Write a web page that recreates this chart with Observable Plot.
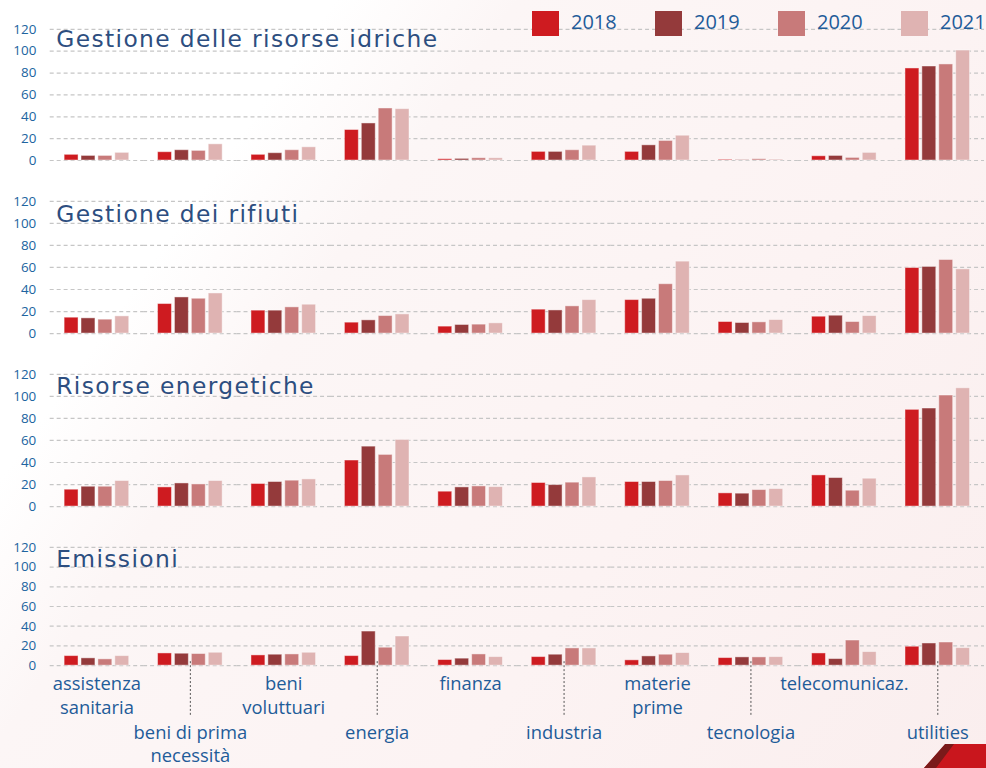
<!DOCTYPE html>
<html><head><meta charset="utf-8">
<script src="https://cdn.jsdelivr.net/npm/d3@7"></script>
<script src="https://cdn.jsdelivr.net/npm/@observablehq/plot@0.6"></script>
<style>
html,body{margin:0;padding:0;overflow:hidden;background:#fff;}
#page{position:relative;width:986px;height:768px;overflow:hidden;
  background:linear-gradient(125deg,#ffffff 0%,#ffffff 22%,#fcf6f6 34%,#fcf3f3 65%,#faeeee 100%);}
.panel{position:absolute;left:0;}
.leg{position:absolute;top:11px;height:25px;font-family:"Open Sans",sans-serif;font-size:20px;color:#1f5c99;}
.leg .sw{position:absolute;left:0;top:0;width:27px;height:25px;}
.leg .lb{position:absolute;left:39px;top:-4px;white-space:nowrap;line-height:30px;}
g[font-family="DejaVu Sans"] text{letter-spacing:1.4px;}
#deco{position:absolute;left:924px;top:744px;width:62px;height:24px;background:#c9161d;clip-path:polygon(0 100%,35% 0,100% 0,100% 100%);}
#deco2{position:absolute;left:924px;top:744px;width:30px;height:24px;background:#7a1a1a;clip-path:polygon(0 100%,70% 0,100% 0,40% 100%);}
</style>
</head><body>
<div id="page"></div>
<script>
const categories = ["assistenza sanitaria","beni di prima necessità","beni voluttuari","energia","finanza","industria","materie prime","tecnologia","telecomunicaz.","utilities"];
const labelLine1 = ["assistenza","beni di prima","beni","energia","finanza","industria","materie","tecnologia","telecomunicaz.","utilities"];
const labelLine2 = ["sanitaria","necessità","voluttuari","","","","prime","","",""];
const years = ["2018","2019","2020","2021"];
const yearColors = ["#ce1b20","#943a3b","#c87a7a","#dfb3b2"];
const yTicks = [0,20,40,60,80,100,120];
const panelTitles = ["Gestione delle risorse idriche","Gestione dei rifiuti","Risorse energetiche","Emissioni"];

// Gestione delle risorse idriche
const idriche2018 = [5.2, 7.6, 5.2, 27.9, 1.2, 7.9, 7.9, 0.6, 3.9, 84.2];
const idriche2019 = [4.2, 9.4, 6.7, 33.9, 1.5, 7.9, 13.9, 0.3, 4.2, 86.0];
const idriche2020 = [4.2, 8.8, 9.4, 47.6, 2.1, 9.4, 17.9, 1.2, 2.4, 87.9];
const idriche2021 = [7.0, 14.8, 12.1, 47.0, 2.1, 13.6, 22.7, 0.9, 7.0, 100.6];
// Gestione dei rifiuti
const rifiuti2018 = [14.4, 26.8, 20.8, 9.9, 6.3, 21.7, 30.4, 10.5, 15.3, 59.5];
const rifiuti2019 = [13.8, 32.8, 20.8, 12.0, 7.8, 21.0, 31.6, 9.6, 16.2, 60.5];
const rifiuti2020 = [12.6, 31.6, 23.8, 15.9, 8.1, 24.7, 44.8, 10.2, 10.5, 66.8];
const rifiuti2021 = [15.6, 36.4, 26.2, 17.4, 9.3, 30.4, 65.3, 12.3, 15.9, 58.3];
// Risorse energetiche
const energetiche2018 = [15.3, 17.4, 20.5, 41.8, 13.5, 21.4, 22.3, 12.0, 28.3, 87.8];
const energetiche2019 = [18.0, 21.0, 22.3, 54.4, 17.4, 19.5, 22.3, 11.7, 25.9, 89.0];
const energetiche2020 = [18.0, 20.1, 23.5, 46.9, 18.3, 21.7, 23.2, 15.0, 14.4, 100.8];
const energetiche2021 = [23.2, 23.2, 24.7, 60.5, 17.7, 26.5, 28.3, 15.9, 25.3, 107.4];
// Emissioni
const emissioni2018 = [9.7, 12.4, 10.4, 9.7, 5.7, 8.7, 5.4, 7.7, 12.4, 19.2];
const emissioni2019 = [7.4, 12.1, 11.1, 34.6, 7.1, 11.1, 9.4, 8.4, 6.7, 22.5];
const emissioni2020 = [6.4, 11.8, 11.4, 18.2, 11.4, 17.5, 11.1, 8.4, 25.5, 23.5];
const emissioni2021 = [9.7, 13.1, 13.1, 29.6, 8.7, 17.5, 12.8, 8.7, 13.8, 17.8];

const panelSeries = [
  [idriche2018, idriche2019, idriche2020, idriche2021],
  [rifiuti2018, rifiuti2019, rifiuti2020, rifiuti2021],
  [energetiche2018, energetiche2019, energetiche2020, energetiche2021],
  [emissioni2018, emissioni2019, emissioni2020, emissioni2021]
];

const layouts = [
  {top: 0,   marginTop: 29, plotH: 132, marginBottom: 8,   titleDy: 18},
  {top: 180, marginTop: 21, plotH: 133, marginBottom: 8,   titleDy: 21},
  {top: 353, marginTop: 21, plotH: 133, marginBottom: 8,   titleDy: 20},
  {top: 526, marginTop: 21, plotH: 119, marginBottom: 102, titleDy: 20}
];

const page = document.getElementById("page");
const labelColor = "#1f5c99";

panelSeries.forEach((series, p) => {
  const L = layouts[p];
  const rows = [];
  categories.forEach((c, i) => years.forEach((y, j) => rows.push({cat: c, year: y, value: series[j][i]})));
  const marks = [
    Plot.ruleY(yTicks, {stroke: "#c6c6c6", strokeDasharray: "4,3", strokeWidth: 1.2}),
    Plot.barY(rows, {fx: "cat", x: "year", y: "value", fill: "year", stroke: "#ffffff", strokeOpacity: 0.45, strokeWidth: 1}),
    Plot.text([panelTitles[p]], {fx: () => categories[0], text: d => d, frameAnchor: "top-left", textAnchor: "start", lineAnchor: "bottom",
      dx: 6, dy: L.titleDy, fontFamily: "DejaVu Sans", fontSize: 23.5, fill: "#2d4e80"})
  ];
  if (p === 3) {
    const labs = categories.map((c, i) => ({cat: c, l1: labelLine1[i], l2: labelLine2[i], i}));
    const odd = labs.filter(d => d.i % 2 === 0);
    const even = labs.filter(d => d.i % 2 === 1);
    const tOpts = {fx: "cat", frameAnchor: "bottom", lineAnchor: "bottom", fontSize: 18.5, fill: labelColor, fontFamily: "Open Sans"};
    marks.push(
      Plot.ruleX(even, {fx: "cat", x: null, y1: 0, insetTop: -4, insetBottom: -52, stroke: "#555", strokeDasharray: "2,2", strokeWidth: 1}),
      Plot.text(odd, {...tOpts, text: "l1", dy: 24}),
      Plot.text(odd, {...tOpts, text: "l2", dy: 49}),
      Plot.text(even, {...tOpts, text: "l1", dy: 74}),
      Plot.text(even, {...tOpts, text: "l2", dy: 97})
    );
  }
  const chart = Plot.plot({
    width: 992,
    height: L.marginTop + L.plotH + L.marginBottom,
    marginLeft: 48.5,
    marginRight: 0.5,
    marginTop: L.marginTop,
    marginBottom: L.marginBottom,
    fx: {domain: categories, padding: 0, axis: null, label: null},
    x: {domain: years, paddingInner: 0.2, paddingOuter: 0.855, axis: null},
    y: {domain: [0, 120], ticks: yTicks, tickSize: 0, tickPadding: 14, label: null},
    color: {domain: years, range: yearColors},
    style: {fontFamily: "Open Sans", fontSize: "13.5px", color: "#2064a0", background: "transparent", overflow: "visible"},
    marks
  });
  chart.classList.add("panel");
  chart.style.top = L.top + "px";
  page.appendChild(chart);
});

years.forEach((y, j) => {
  const d = document.createElement("div");
  d.className = "leg";
  d.style.left = (532 + j * 123) + "px";
  d.innerHTML = `<div class="sw" style="background:${yearColors[j]}"></div><div class="lb">${y}</div>`;
  page.appendChild(d);
});
const deco = document.createElement("div"); deco.id = "deco"; page.appendChild(deco);
const deco2 = document.createElement("div"); deco2.id = "deco2"; page.appendChild(deco2);
</script>
</body></html>
